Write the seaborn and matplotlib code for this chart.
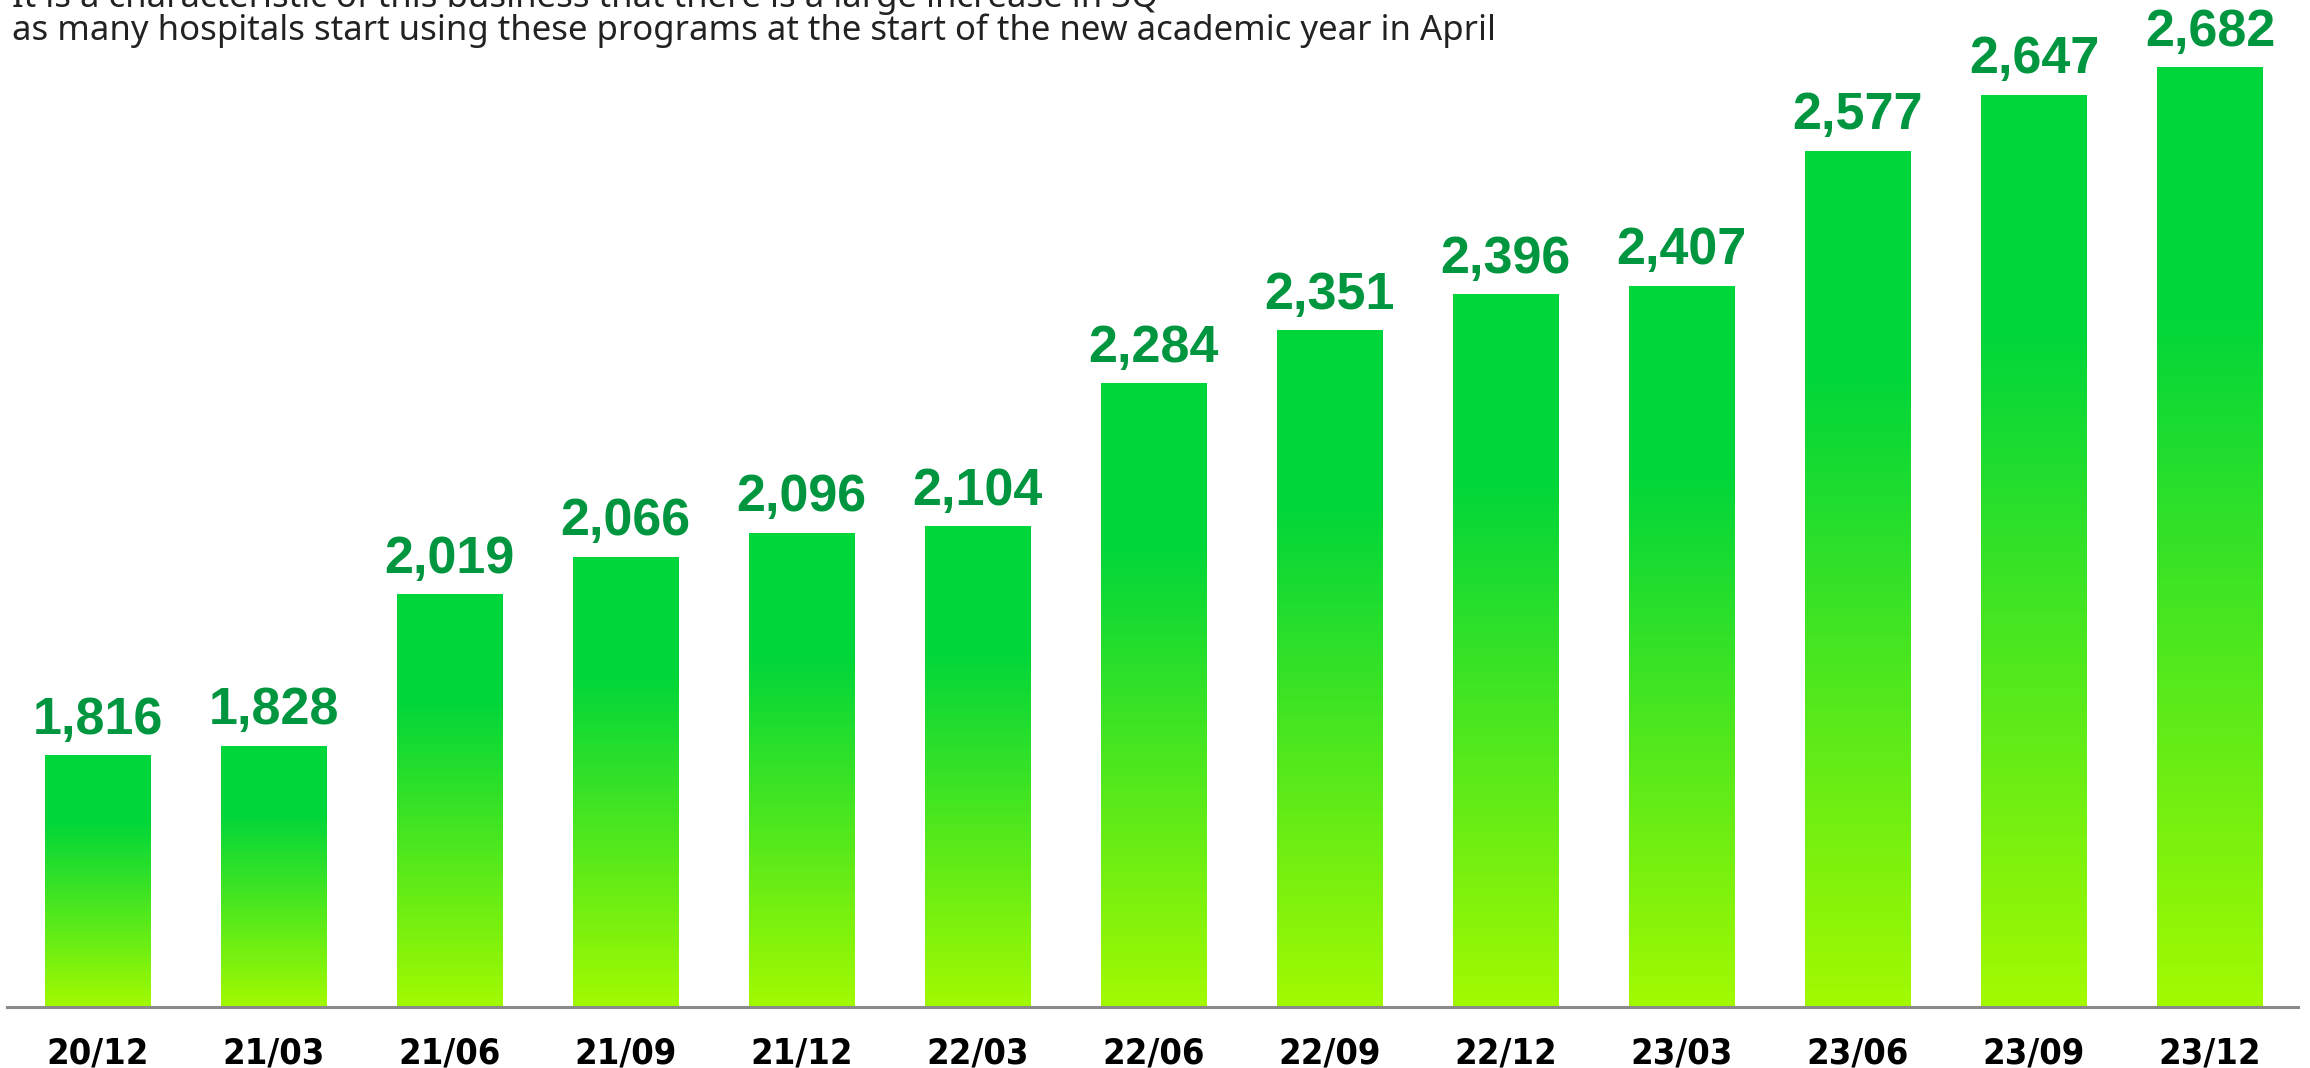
import numpy as np
import pandas as pd
import matplotlib
matplotlib.use("Agg")
import matplotlib.pyplot as plt
import seaborn as sns
from matplotlib.colors import LinearSegmentedColormap
from matplotlib.font_manager import FontProperties

periods = ["20/12", "21/03", "21/06", "21/09", "21/12", "22/03", "22/06",
           "22/09", "22/12", "23/03", "23/06", "23/09", "23/12"]
hospitals = [1816, 1828, 2019, 2066, 2096, 2104, 2284,
             2351, 2396, 2407, 2577, 2647, 2682]
note_lines = [
    "It is a characteristic of this business that there is a large increase in 3Q",
    "as many hospitals start using these programs at the start of the new academic year in April",
]

sns.set_theme(style="white")
plt.rcParams['font.family'] = ['DejaVu Sans']

W, H = 2310, 1068
fig = plt.figure(figsize=(W / 100, H / 100), dpi=100)
fig.patch.set_facecolor("white")
ax = fig.add_axes([7 / W, 61 / H, 2291 / W, 1007 / H])
ax.set_facecolor("white")

df = pd.DataFrame({"period": periods, "hospitals": hospitals})
sns.barplot(data=df, x="period", y="hospitals", ax=ax, width=0.6,
            color="#00d63a", saturation=1, errorbar=None)

ymin, ymax = 1500, 2767
cmap = LinearSegmentedColormap.from_list(
    "grad", [(0.0, "#a2fa00"), (0.74, "#00d63a"), (1.0, "#00d63a")])
grad = np.linspace(0, 1, 256).reshape(-1, 1)

for p, v in zip(ax.patches, hospitals):
    x0 = p.get_x()
    x1 = x0 + p.get_width()
    top = p.get_y() + p.get_height()
    ax.imshow(grad, cmap=cmap, origin="lower", aspect="auto",
              extent=(x0, x1, ymin, top), interpolation="bilinear", zorder=2)
    p.set_visible(False)
    ax.annotate(f"{v:,}", xy=(x0 + p.get_width() / 2, top),
                xytext=(0, 15.8), textcoords="offset points",
                ha="center", va="baseline", fontsize=37.5,
                fontweight="bold", color="#00963f", family="Liberation Sans")

ax.set_xlim(-0.514, 12.5)
ax.set_ylim(ymin, ymax)
ax.set_aspect("auto")
ax.set_xlabel("")
ax.set_ylabel("")
ax.set_yticks([])
for s in ["left", "top", "right"]:
    ax.spines[s].set_visible(False)
ax.spines["bottom"].set_color("#8a8a8a")
ax.spines["bottom"].set_linewidth(2.2)
ax.spines["bottom"].set_zorder(3)
ax.tick_params(axis="x", length=0, pad=21)
fp = FontProperties(family="DejaVu Sans", weight="bold", stretch="condensed", size=26)
for lbl in ax.get_xticklabels():
    lbl.set_fontproperties(fp)
    lbl.set_color("black")

fig.text(12 / W, 1 - 7 / H, note_lines[0], fontsize=25, family="Noto Sans",
         color="#222222", va="baseline", ha="left")
fig.text(12 / W, 1 - 40 / H, note_lines[1], fontsize=25, family="Noto Sans",
         color="#222222", va="baseline", ha="left")

fig.savefig("out.png", dpi=100, facecolor="white")
